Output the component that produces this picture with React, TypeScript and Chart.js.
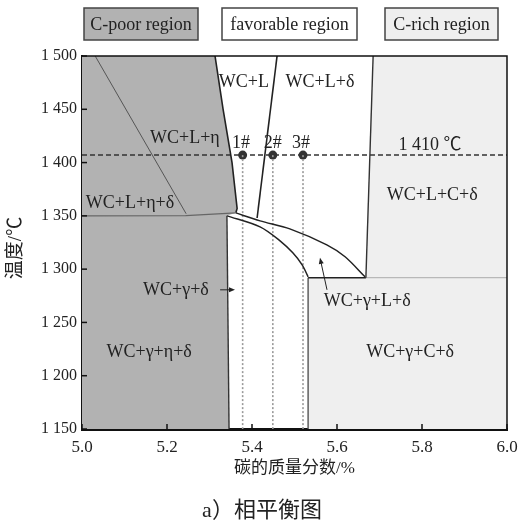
import React, { useEffect, useRef } from "react";
import { Chart, registerables } from "chart.js";

Chart.register(...registerables);

// ---------- axis ranges / ticks ----------
const X_MIN = 5.0;
const X_MAX = 6.0;
const T_MIN = 1150;
const T_MAX = 1500;
const X_TICKS = [5.0, 5.2, 5.4, 5.6, 5.8, 6.0];
const T_TICKS = [1150, 1200, 1250, 1300, 1350, 1400, 1450, 1500];

// ---------- phase regions (x = C mass %, T = °C) ----------
const C_POOR_X = [5.0, 5.313, 5.332, 5.353, 5.365, 5.362, 5.341, 5.346, 5.0];
const C_POOR_T = [1500, 1500, 1450, 1400, 1357, 1353, 1350, 1150, 1150];
const C_RICH_X = [5.685, 6.0, 6.0, 5.532, 5.532, 5.668];
const C_RICH_T = [1500, 1500, 1150, 1150, 1292, 1292];

// ---------- phase boundaries ----------
const POOR_LIQ_X = [5.313, 5.332, 5.353, 5.365, 5.362];
const POOR_LIQ_T = [1500, 1450, 1400, 1357, 1353];
const POOR_SOL_X = [5.341, 5.346];
const POOR_SOL_T = [1350, 1150];
const ETA_X = [5.031, 5.245];
const ETA_T = [1500, 1352];
const EUT_X = [5.0, 5.244, 5.362];
const EUT_T = [1350, 1350.3, 1352.8];
const DELTA_X = [5.459, 5.412];
const DELTA_T = [1500, 1348];
const UPPER_X = [5.362, 5.419, 5.489, 5.576, 5.619, 5.666];
const UPPER_T = [1352.8, 1345.3, 1337.8, 1322.8, 1311.6, 1292.8];
const LOWER_X = [5.341, 5.419, 5.466, 5.496, 5.518, 5.532];
const LOWER_T = [1350, 1339.7, 1326.6, 1315.3, 1304, 1292.8];
const RICH_LEFT_X = [5.685, 5.668];
const RICH_LEFT_T = [1500, 1292];
const RICH_STEP_X = [5.532, 5.668];
const RICH_STEP_T = [1292, 1292];
const RICH_HORIZ_X = [5.668, 6.0];
const RICH_HORIZ_T = [1292, 1292];
const RICH_VERT_X = [5.532, 5.532];
const RICH_VERT_T = [1292, 1150];

// ---------- isotherm and samples ----------
const ISO_T = 1407;
const ISO_LABEL = "1 410 ℃";
const ISO_LABEL_X = 5.819;
const ISO_LABEL_T = 1416.6;
const SAMPLE_NAMES = ["1#", "2#", "3#"];
const SAMPLE_X = [5.378, 5.449, 5.52];
const SAMPLE_LABEL_X = [5.374, 5.449, 5.515];
const SAMPLE_LABEL_T = 1418.4;

// ---------- region labels ----------
const REGION_LABELS = ["WC+L", "WC+L+δ", "WC+L+η", "WC+L+η+δ", "WC+L+C+δ", "WC+γ+δ", "WC+γ+η+δ", "WC+γ+L+δ", "WC+γ+C+δ"];
const REGION_LABEL_X = [5.381, 5.56, 5.242, 5.113, 5.824, 5.221, 5.158, 5.671, 5.772];
const REGION_LABEL_T = [1475.6, 1475.6, 1423.1, 1362.2, 1369.7, 1280.6, 1221.6, 1269.4, 1221.6];

// ---------- arrows (from -> to) ----------
const ARROW_FROM_X = [5.325, 5.5765];
const ARROW_FROM_T = [1280.6, 1280.6];
const ARROW_TO_X = [5.36, 5.56];
const ARROW_TO_T = [1280.6, 1310.6];

// ---------- legend boxes ----------
const LEGEND_LABELS = ["C-poor region", "favorable region", "C-rich region"];
const LEGEND_FILLS = ["#b2b2b2", "#ffffff", "#efefef"];

const X_TITLE = "碳的质量分数/%";
const Y_TITLE = "温度/℃";
const CAPTION = "a）相平衡图";

const FONT = '"Liberation Serif", "Times New Roman", "Noto Sans CJK SC", serif';
const TEXT = "#222";

const pts = (xs: number[], ts: number[]) => xs.map((x, i) => ({ x, y: ts[i] }));

const lineDs = (xs: number[], ts: number[], color: string, width: number, dash: number[] = []) => ({
  data: pts(xs, ts),
  showLine: true,
  borderColor: color,
  borderWidth: width,
  borderDash: dash,
  pointRadius: 0,
  fill: false,
  tension: 0,
});

const phasePlugin = {
  id: "phasePlugin",
  beforeDatasetsDraw(chart: any) {
    const { ctx, chartArea, scales } = chart;
    const sx = scales.x, sy = scales.y;
    ctx.save();
    ctx.beginPath();
    ctx.rect(chartArea.left, chartArea.top, chartArea.right - chartArea.left, chartArea.bottom - chartArea.top);
    ctx.clip();
    const poly = (xs: number[], ts: number[], fill: string) => {
      ctx.beginPath();
      xs.forEach((x, i) => {
        const px = sx.getPixelForValue(x);
        const py = sy.getPixelForValue(ts[i]);
        if (i === 0) ctx.moveTo(px, py);
        else ctx.lineTo(px, py);
      });
      ctx.closePath();
      ctx.fillStyle = fill;
      ctx.fill();
    };
    poly(C_POOR_X, C_POOR_T, LEGEND_FILLS[0]);
    poly(C_RICH_X, C_RICH_T, LEGEND_FILLS[2]);
    ctx.restore();
  },
  afterDraw(chart: any) {
    const { ctx, chartArea, scales } = chart;
    const sx = scales.x, sy = scales.y;
    ctx.save();
    // top / right frame
    ctx.strokeStyle = "#111";
    ctx.lineWidth = 1.5;
    ctx.beginPath();
    ctx.moveTo(chartArea.left, chartArea.top);
    ctx.lineTo(chartArea.right, chartArea.top);
    ctx.lineTo(chartArea.right, chartArea.bottom);
    ctx.stroke();
    // inside ticks
    ctx.lineWidth = 1.5;
    T_TICKS.forEach((t) => {
      const py = sy.getPixelForValue(t);
      ctx.beginPath();
      ctx.moveTo(chartArea.left, py);
      ctx.lineTo(chartArea.left + 5, py);
      ctx.stroke();
    });
    X_TICKS.forEach((x) => {
      const px = sx.getPixelForValue(x);
      ctx.beginPath();
      ctx.moveTo(px, chartArea.bottom);
      ctx.lineTo(px, chartArea.bottom - 5);
      ctx.stroke();
    });
    // region labels
    ctx.fillStyle = TEXT;
    ctx.textAlign = "center";
    ctx.textBaseline = "middle";
    ctx.font = `18px ${FONT}`;
    REGION_LABELS.forEach((s, i) => {
      ctx.fillText(s, sx.getPixelForValue(REGION_LABEL_X[i]), sy.getPixelForValue(REGION_LABEL_T[i]));
    });
    SAMPLE_NAMES.forEach((s, i) => {
      ctx.fillText(s, sx.getPixelForValue(SAMPLE_LABEL_X[i]), sy.getPixelForValue(SAMPLE_LABEL_T));
    });
    ctx.fillText(ISO_LABEL, sx.getPixelForValue(ISO_LABEL_X), sy.getPixelForValue(ISO_LABEL_T));
    // arrows
    ctx.strokeStyle = "#222";
    ctx.lineWidth = 1;
    ARROW_FROM_X.forEach((fx, i) => {
      const x1 = sx.getPixelForValue(fx), y1 = sy.getPixelForValue(ARROW_FROM_T[i]);
      const x2 = sx.getPixelForValue(ARROW_TO_X[i]), y2 = sy.getPixelForValue(ARROW_TO_T[i]);
      const a = Math.atan2(y2 - y1, x2 - x1);
      const h = 6;
      ctx.beginPath();
      ctx.moveTo(x1, y1);
      ctx.lineTo(x2 - Math.cos(a) * h * 0.8, y2 - Math.sin(a) * h * 0.8);
      ctx.stroke();
      ctx.beginPath();
      ctx.moveTo(x2, y2);
      ctx.lineTo(x2 - h * Math.cos(a) + 2.5 * Math.sin(a), y2 - h * Math.sin(a) - 2.5 * Math.cos(a));
      ctx.lineTo(x2 - h * Math.cos(a) - 2.5 * Math.sin(a), y2 - h * Math.sin(a) + 2.5 * Math.cos(a));
      ctx.closePath();
      ctx.fillStyle = "#222";
      ctx.fill();
    });
    // legend boxes
    const boxes = [
      [84, 8, 114, 32],
      [222, 8, 135, 32],
      [385, 8, 113, 32],
    ];
    ctx.font = `18px ${FONT}`;
    boxes.forEach((b, i) => {
      ctx.fillStyle = LEGEND_FILLS[i];
      ctx.fillRect(b[0], b[1], b[2], b[3]);
      ctx.strokeStyle = "#444";
      ctx.lineWidth = 1.5;
      ctx.strokeRect(b[0], b[1], b[2], b[3]);
      ctx.fillStyle = TEXT;
      ctx.fillText(LEGEND_LABELS[i], b[0] + b[2] / 2, b[1] + b[3] / 2 + 1);
    });
    // y title
    ctx.save();
    ctx.translate(16, 248);
    ctx.rotate(-Math.PI / 2);
    ctx.font = `19px ${FONT}`;
    ctx.fillStyle = TEXT;
    ctx.fillText(Y_TITLE, 0, 0);
    ctx.restore();
    // caption
    ctx.font = `22px ${FONT}`;
    ctx.fillStyle = TEXT;
    ctx.fillText(CAPTION, 262, 511);
    ctx.restore();
  },
};

export default function App() {
  const ref = useRef<HTMLCanvasElement>(null);
  useEffect(() => {
    if (!ref.current) return;
    const datasets: any[] = [
      lineDs(ETA_X, ETA_T, "#555", 1),
      lineDs(EUT_X, EUT_T, "#666", 1.2),
      lineDs(POOR_LIQ_X, POOR_LIQ_T, "#222", 1.6),
      lineDs(POOR_SOL_X, POOR_SOL_T, "#333", 1.4),
      lineDs(DELTA_X, DELTA_T, "#222", 1.6),
      { ...lineDs(UPPER_X, UPPER_T, "#222", 1.5), tension: 0.3 },
      { ...lineDs(LOWER_X, LOWER_T, "#222", 1.5), tension: 0.3 },
      lineDs(RICH_LEFT_X, RICH_LEFT_T, "#333", 1.4),
      lineDs(RICH_STEP_X, RICH_STEP_T, "#222", 1.5),
      lineDs(RICH_HORIZ_X, RICH_HORIZ_T, "#b8b8b8", 1.2),
      lineDs(RICH_VERT_X, RICH_VERT_T, "#555", 1.4),
      ...SAMPLE_X.map((sxv) => lineDs([sxv, sxv], [ISO_T, T_MIN], "#9a9a9a", 1.6, [2, 2])),
      lineDs([X_MIN, X_MAX], [ISO_T, ISO_T], "#333", 1.5, [5, 3]),
      {
        data: SAMPLE_X.map((x) => ({ x, y: ISO_T })),
        showLine: false,
        pointRadius: 4.5,
        pointBackgroundColor: "#333",
        pointBorderColor: "#333",
        pointBorderWidth: 0,
      },
    ];
    const chart = new Chart(ref.current, {
      type: "scatter",
      data: { datasets },
      options: {
        animation: false,
        responsive: false,
        events: [],
        layout: { padding: { left: 0, top: 56, right: 15, bottom: 30 } },
        plugins: { legend: { display: false }, tooltip: { enabled: false }, title: { display: false } },
        scales: {
          x: {
            type: "linear",
            min: X_MIN,
            max: X_MAX,
            afterFit: (s: any) => {
              s.height = 62;
              s.paddingLeft = 0;
              s.paddingRight = 0;
            },
            afterBuildTicks: (s: any) => {
              s.ticks = X_TICKS.map((v) => ({ value: v }));
            },
            ticks: {
              color: TEXT,
              font: { family: FONT, size: 17 },
              padding: 8,
              maxRotation: 0,
              callback: (v: any) => Number(v).toFixed(1),
            },
            grid: { display: true, drawOnChartArea: false, drawTicks: false, color: "transparent" },
            border: { display: true, color: "#111", width: 3 },
            title: { display: true, text: X_TITLE, color: TEXT, font: { family: FONT, size: 17 }, padding: { top: 0, bottom: 12 } },
          },
          y: {
            type: "linear",
            min: T_MIN,
            max: T_MAX,
            afterFit: (s: any) => {
              s.width = 82;
              s.paddingTop = 0;
              s.paddingBottom = 0;
            },
            afterBuildTicks: (s: any) => {
              s.ticks = T_TICKS.map((v) => ({ value: v }));
            },
            ticks: {
              color: TEXT,
              font: { family: FONT, size: 16 },
              padding: 5,
              callback: (v: any) => {
                const s = String(v);
                return s.slice(0, 1) + " " + s.slice(1);
              },
            },
            grid: { display: true, drawOnChartArea: false, drawTicks: false, color: "transparent" },
            border: { display: true, color: "#111", width: 2 },
            title: { display: false },
          },
        },
      },
      plugins: [phasePlugin],
    } as any);
    return () => chart.destroy();
  }, []);
  return (
    <div style={{ position: "absolute", left: 0, top: 0, width: 522, height: 521, background: "#fff" }}>
      <canvas ref={ref} width={522} height={521} style={{ display: "block" }} />
    </div>
  );
}
